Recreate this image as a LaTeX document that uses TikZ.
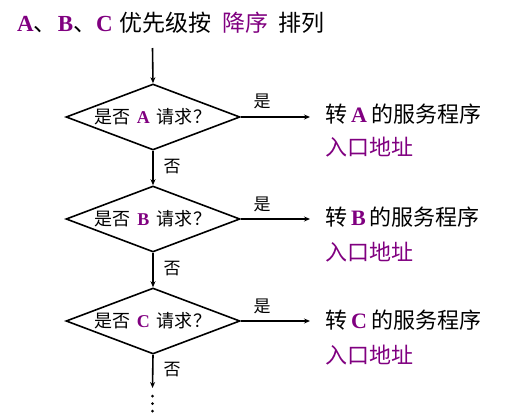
\documentclass[tikz,border=0pt]{standalone}
\usepackage{fontspec}
\setmainfont{Liberation Serif}
\newfontfamily\cjk{Noto Sans CJK SC}
\usetikzlibrary{shapes.geometric,arrows.meta}
\definecolor{pur}{RGB}{128,0,128}
\newcommand{\LL}[1]{{\fontspec{Liberation Serif}\bfseries\color{pur}#1}}
\newcommand{\gap}[1]{\hspace*{#1pt}}
\tikzset{
  dec/.style={draw,line width=1.6pt,diamond,aspect=2.6,inner sep=0pt,minimum width=174pt,minimum height=66pt,font=\cjk\fontsize{18}{20}\selectfont},
  arr/.style={line width=1.6pt,-{Stealth[length=6pt,width=5pt]}},
  lbl/.style={font=\cjk\fontsize{17}{19}\selectfont,inner sep=0pt},
  txt/.style={font=\cjk\fontsize{22}{25}\selectfont,anchor=west,inner sep=0pt},
}
\begin{document}
\begin{tikzpicture}[x=1pt,y=1pt]
\useasboundingbox (0,0) rectangle (507,-415);
\node[font=\cjk\fontsize{23}{26}\selectfont,anchor=west,inner sep=0pt] (title) at (17,-23) {\LL{A}、\gap{1}\LL{B}、\LL{C}\gap{7}优先级按\gap{11}{\color{pur}降序}\gap{10}排列};
\coordinate (start) at (152.5,-48);
\node[dec] (d1) at (153,-117) {是否\gap{7}\LL{A}\gap{7}请求\gap{1}？};
\node[dec] (d2) at (153,-219) {是否\gap{7}\LL{B}\gap{7}请求\gap{1}？};
\node[dec] (d3) at (153,-321) {是否\gap{7}\LL{C}\gap{7}请求\gap{1}？};
\coordinate (r1) at (310,-117);
\coordinate (r2) at (310,-219);
\coordinate (r3) at (310,-321);
\coordinate (endp) at (152.5,-388);
\node[txt] (t1) at (325,-114) {转\gap{4}\LL{A}\gap{4}的服务程序};
\node[txt,text=pur] (a1) at (325,-147) {入口地址};
\node[txt] (t2) at (325,-217) {转\gap{4}\LL{B}\gap{4}的服务程序};
\node[txt,text=pur] (a2) at (325,-252) {入口地址};
\node[txt] (t3) at (325,-320) {转\gap{4}\LL{C}\gap{4}的服务程序};
\node[txt,text=pur] (a3) at (325,-355) {入口地址};
\draw[arr] (start) -- (d1.north);
\draw[arr] (d1.east) -- (r1);
\draw[arr] (d2.east) -- (r2);
\draw[arr] (d3.east) -- (r3);
\draw[arr] (d1.south) -- (d2.north);
\draw[arr] (d2.south) -- (d3.north);
\draw[arr] (d3.south) -- (endp);
\node[lbl] (y1) at (262,-101) {是};
\node[lbl] (y2) at (262,-204) {是};
\node[lbl] (y3) at (262,-306) {是};
\node[lbl] (n1) at (172,-167) {否};
\node[lbl] (n2) at (172,-269) {否};
\node[lbl] (n3) at (172,-370) {否};
\fill (152.5,-396) circle (1.5pt) (152.5,-403.5) circle (1.5pt) (152.5,-411) circle (1.5pt);
\end{tikzpicture}
\end{document}
